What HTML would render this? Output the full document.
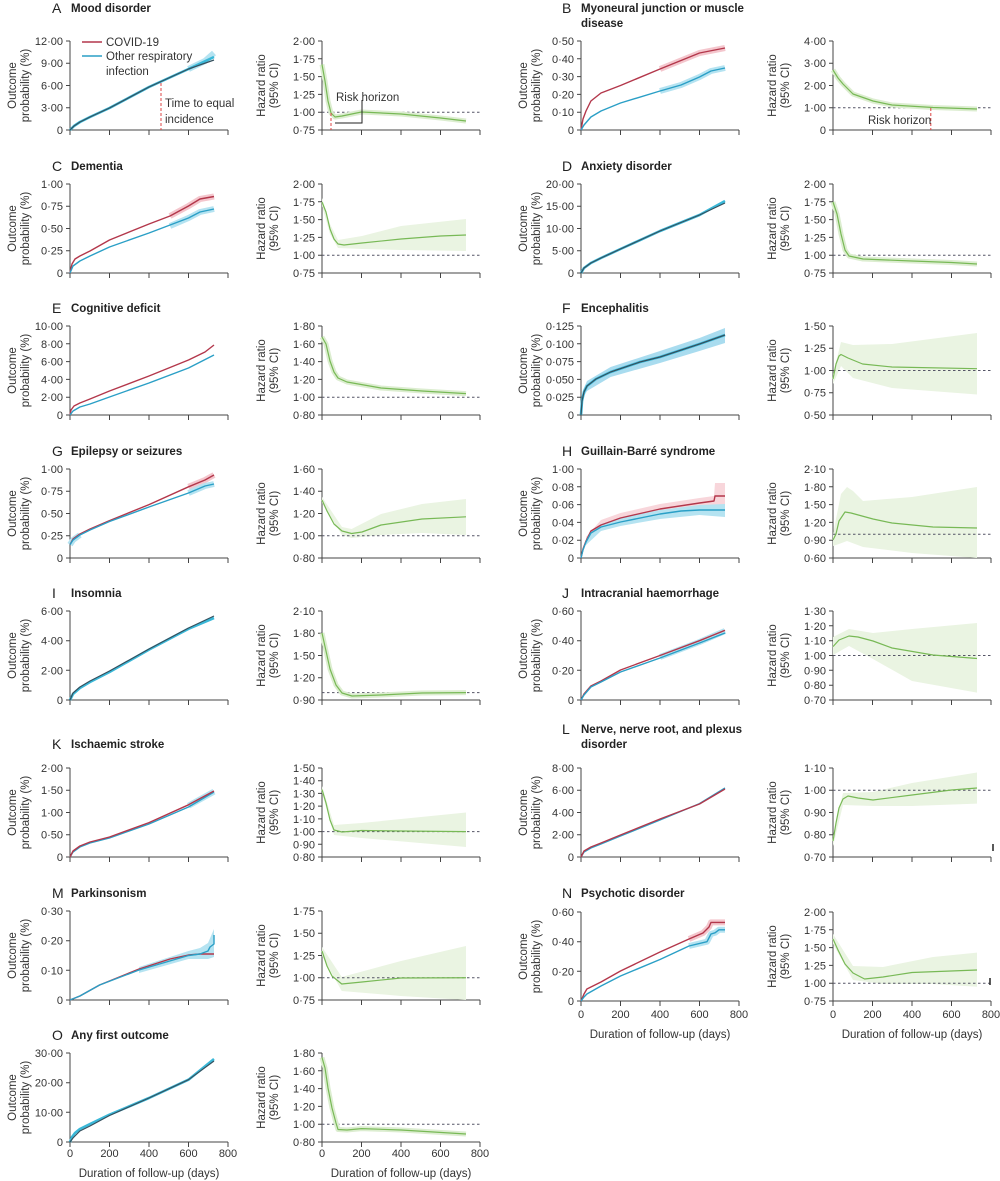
<!DOCTYPE html>
<html><head><meta charset="utf-8"><style>
html,body{margin:0;padding:0;background:#fff}
svg{display:block}
text{font-family:"Liberation Sans",sans-serif;fill:#333}
.t{font-size:11px;text-anchor:end}
.xt{font-size:11px;text-anchor:middle}
.yl{font-size:11.5px;text-anchor:middle}
.ax{fill:none;stroke:#444;stroke-width:1}
.lt{font-size:14px;fill:#222}
.ti{font-size:11.5px;font-weight:bold;fill:#222}
.r{fill:none;stroke:#b3374b;stroke-width:1.4;stroke-linejoin:round}
.c{fill:none;stroke:#2a9fc6;stroke-width:1.4;stroke-linejoin:round}
.cw{fill:none;stroke:#3ab8d8;stroke-width:2.6;stroke-linejoin:round}
.d{fill:none;stroke:#35505e;stroke-width:1.2;stroke-linejoin:round}
.rb{fill:none;stroke:#f4c6cd;stroke-width:6;stroke-linejoin:round}
.cb{fill:none;stroke:#b5e3f1;stroke-width:6;stroke-linejoin:round}
.g{fill:none;stroke:#78b956;stroke-width:1.2;stroke-linejoin:round}
.gs{fill:none;stroke:#dcedd0;stroke-width:5;stroke-linejoin:round}
.gb{fill:#eaf4e2;stroke:none}
.dot{stroke:#556;stroke-width:1;stroke-dasharray:2.5,2.5}
</style></head><body>
<svg width="1000" height="1181" viewBox="0 0 1000 1181" xmlns="http://www.w3.org/2000/svg">
<defs>
<path id="ax" class="ax" d="M0,0V89H158M0,89v5M39.5,89v5M79,89v5M118.5,89v5M158,89v5"/>
</defs>

<!-- ===== A ===== -->
<text class="lt" x="52" y="13">A</text><text class="ti" x="71" y="12">Mood disorder</text>
<g transform="translate(70,41)">
<use href="#ax"/>
<path class="ax" d="M-4,0h4M-4,22.25h4M-4,44.5h4M-4,66.75h4M-4,89h4"/>
<text class="t" x="-7" y="93">0</text><text class="t" x="-7" y="70.7">3·00</text><text class="t" x="-7" y="48.5">6·00</text><text class="t" x="-7" y="26.2">9·00</text><text class="t" x="-7" y="4">12·00</text>
<text class="yl" transform="translate(-54,44.5) rotate(-90)">Outcome</text>
<text class="yl" transform="translate(-41,44.5) rotate(-90)">probability (%)</text>
<path class="cb" d="M118.5,28L135,20L144,12"/>
<polyline class="cw" points="0,89 4,85 10,81 20,76 39.5,67 79,46 118.5,28 144,16"/>
<polyline class="d" points="0,89 4,85 10,81 20,76 39.5,67 79,46 118.5,28 144,19"/>
<line x1="91" y1="42" x2="91" y2="89" stroke="#d44" stroke-width="1" stroke-dasharray="3,2"/>
<text x="95" y="66" style="font-size:11.5px">Time to equal</text>
<text x="95" y="82" style="font-size:11.5px">incidence</text>
<line x1="12" y1="1" x2="32" y2="1" stroke="#b3374b" stroke-width="1.4"/>
<text x="36" y="5" style="font-size:11.5px">COVID-19</text>
<line x1="12" y1="15" x2="32" y2="15" stroke="#2a9fc6" stroke-width="1.4"/>
<text x="36" y="19" style="font-size:11.5px">Other respiratory</text>
<text x="36" y="34" style="font-size:11.5px">infection</text>
</g>
<g transform="translate(322,41)">
<use href="#ax"/>
<path class="ax" d="M-4,0h4M-4,17.8h4M-4,35.6h4M-4,53.4h4M-4,71.2h4M-4,89h4"/>
<text class="t" x="-7" y="93">0·75</text><text class="t" x="-7" y="75.2">1·00</text><text class="t" x="-7" y="57.4">1·25</text><text class="t" x="-7" y="39.6">1·50</text><text class="t" x="-7" y="21.8">1·75</text><text class="t" x="-7" y="4">2·00</text>
<text class="yl" transform="translate(-57,44.5) rotate(-90)">Hazard ratio</text>
<text class="yl" transform="translate(-44,44.5) rotate(-90)">(95% CI)</text>
<line class="dot" x1="0" y1="71.2" x2="158" y2="71.2"/>
<polyline class="gs" points="0,23.5 3,40 6,60 9,72 13,76 20,75 39.5,71 79,73 118.5,77 144,80"/>
<polyline class="g" points="0,23.5 3,40 6,60 9,72 13,76 20,75 39.5,71 79,73 118.5,77 144,80"/>
<line x1="9" y1="72" x2="9" y2="89" stroke="#d44" stroke-width="1" stroke-dasharray="3,2"/>
<path d="M13,82H40V59" fill="none" stroke="#222" stroke-width="1"/>
<text x="14" y="60" style="font-size:11.5px">Risk horizon</text>
</g>

<!-- ===== B ===== -->
<text class="lt" x="562" y="13">B</text><text class="ti" x="581" y="12">Myoneural junction or muscle</text><text class="ti" x="581" y="27">disease</text>
<g transform="translate(581,41)">
<use href="#ax"/>
<path class="ax" d="M-4,0h4M-4,17.8h4M-4,35.6h4M-4,53.4h4M-4,71.2h4M-4,89h4"/>
<text class="t" x="-7" y="93">0</text><text class="t" x="-7" y="75.2">0·10</text><text class="t" x="-7" y="57.4">0·20</text><text class="t" x="-7" y="39.6">0·30</text><text class="t" x="-7" y="21.8">0·40</text><text class="t" x="-7" y="4">0·50</text>
<text class="yl" transform="translate(-54,44.5) rotate(-90)">Outcome</text>
<text class="yl" transform="translate(-41,44.5) rotate(-90)">probability (%)</text>
<polyline class="rb" points="79,28 118.5,12 144,7"/>
<polyline class="cb" points="79,50 100,44 118.5,36 130,30 144,27"/>
<polyline class="r" points="0,89 2,78 5,70 9.9,60 20,52 39.5,44.5 79,28 118.5,12 144,7"/>
<polyline class="c" points="0,89 3,84 9.9,76 20,70 39.5,62 79,50 100,44 118.5,36 130,30 144,27"/>
</g>
<g transform="translate(833,41)">
<use href="#ax"/>
<path class="ax" d="M-4,0h4M-4,22.25h4M-4,44.5h4M-4,66.75h4M-4,89h4"/>
<text class="t" x="-7" y="93">0</text><text class="t" x="-7" y="70.7">1·00</text><text class="t" x="-7" y="48.5">2·00</text><text class="t" x="-7" y="26.2">3·00</text><text class="t" x="-7" y="4">4·00</text>
<text class="yl" transform="translate(-57,44.5) rotate(-90)">Hazard ratio</text>
<text class="yl" transform="translate(-44,44.5) rotate(-90)">(95% CI)</text>
<line class="dot" x1="0" y1="66.75" x2="158" y2="66.75"/>
<polyline class="gs" points="0,29 5,37 10,43 20,53 40,60 59,64 100,66.5 144,68"/>
<polyline class="g" points="0,29 5,37 10,43 20,53 40,60 59,64 100,66.5 144,68"/>
<line x1="97.8" y1="67" x2="97.8" y2="89" stroke="#d44" stroke-width="1" stroke-dasharray="3,2"/>
<text x="35" y="83" style="font-size:11.5px">Risk horizon</text>
</g>

<!-- ===== C ===== -->
<text class="lt" x="52" y="171">C</text><text class="ti" x="71" y="170">Dementia</text>
<g transform="translate(70,184)">
<use href="#ax"/>
<path class="ax" d="M-4,0h4M-4,22.25h4M-4,44.5h4M-4,66.75h4M-4,89h4"/>
<text class="t" x="-7" y="93">0</text><text class="t" x="-7" y="70.7">0·25</text><text class="t" x="-7" y="48.5">0·50</text><text class="t" x="-7" y="26.2">0·75</text><text class="t" x="-7" y="4">1·00</text>
<text class="yl" transform="translate(-54,44.5) rotate(-90)">Outcome</text>
<text class="yl" transform="translate(-41,44.5) rotate(-90)">probability (%)</text>
<polyline class="rb" points="100,32 118.5,22 130,15 144,12.5"/>
<polyline class="cb" points="100,42 118.5,34 130,28 144,25"/>
<polyline class="r" points="0,89 2,80 5,75 9.9,72 20,67 39.5,56 79,40 100,32 118.5,22 130,15 144,12.5"/>
<polyline class="c" points="0,89 3,82 9.9,77 20,72 39.5,63 79,49 118.5,34 130,28 144,25"/>
</g>
<g transform="translate(322,184)">
<use href="#ax"/>
<path class="ax" d="M-4,0h4M-4,17.8h4M-4,35.6h4M-4,53.4h4M-4,71.2h4M-4,89h4"/>
<text class="t" x="-7" y="93">0·75</text><text class="t" x="-7" y="75.2">1·00</text><text class="t" x="-7" y="57.4">1·25</text><text class="t" x="-7" y="39.6">1·50</text><text class="t" x="-7" y="21.8">1·75</text><text class="t" x="-7" y="4">2·00</text>
<text class="yl" transform="translate(-57,44.5) rotate(-90)">Hazard ratio</text>
<text class="yl" transform="translate(-44,44.5) rotate(-90)">(95% CI)</text>
<polygon class="gb" points="0,14 8,40 16,56 40,52 79,42 144,35 144,67 79,66 40,65 16,64 8,50 0,22"/>
<line class="dot" x1="0" y1="71.2" x2="158" y2="71.2"/>
<polyline class="g" points="0,18 4,28 8,45 12,55 16,60 22,61 40,59 79,55 118.5,52 144,51"/>
</g>

<!-- ===== D ===== -->
<text class="lt" x="562" y="171">D</text><text class="ti" x="581" y="170">Anxiety disorder</text>
<g transform="translate(581,184)">
<use href="#ax"/>
<path class="ax" d="M-4,0h4M-4,22.25h4M-4,44.5h4M-4,66.75h4M-4,89h4"/>
<text class="t" x="-7" y="93">0</text><text class="t" x="-7" y="70.7">5·00</text><text class="t" x="-7" y="48.5">10·00</text><text class="t" x="-7" y="26.2">15·00</text><text class="t" x="-7" y="4">20·00</text>
<text class="yl" transform="translate(-54,44.5) rotate(-90)">Outcome</text>
<text class="yl" transform="translate(-41,44.5) rotate(-90)">probability (%)</text>
<polyline class="cw" points="0,89 3,84 9.9,79 20,74 39.5,65 79,47 118.5,31 144,17"/>
<polyline class="d" points="0,89 3,84 9.9,79 20,74 39.5,65 79,47 118.5,31 144,19"/>
</g>
<g transform="translate(833,184)">
<use href="#ax"/>
<path class="ax" d="M-4,0h4M-4,17.8h4M-4,35.6h4M-4,53.4h4M-4,71.2h4M-4,89h4"/>
<text class="t" x="-7" y="93">0·75</text><text class="t" x="-7" y="75.2">1·00</text><text class="t" x="-7" y="57.4">1·25</text><text class="t" x="-7" y="39.6">1·50</text><text class="t" x="-7" y="21.8">1·75</text><text class="t" x="-7" y="4">2·00</text>
<text class="yl" transform="translate(-57,44.5) rotate(-90)">Hazard ratio</text>
<text class="yl" transform="translate(-44,44.5) rotate(-90)">(95% CI)</text>
<line class="dot" x1="0" y1="71.2" x2="158" y2="71.2"/>
<polyline class="gs" points="0,18 4,30 8,50 12,66 16,72 30,75 79,77 118.5,78.5 144,80"/>
<polyline class="g" points="0,18 4,30 8,50 12,66 16,72 30,75 79,77 118.5,78.5 144,80"/>
</g>

<!-- ===== E ===== -->
<text class="lt" x="52" y="313">E</text><text class="ti" x="71" y="312">Cognitive deficit</text>
<g transform="translate(70,326)">
<use href="#ax"/>
<path class="ax" d="M-4,0h4M-4,17.8h4M-4,35.6h4M-4,53.4h4M-4,71.2h4M-4,89h4"/>
<text class="t" x="-7" y="93">0</text><text class="t" x="-7" y="75.2">2·00</text><text class="t" x="-7" y="57.4">4·00</text><text class="t" x="-7" y="39.6">6·00</text><text class="t" x="-7" y="21.8">8·00</text><text class="t" x="-7" y="4">10·00</text>
<text class="yl" transform="translate(-54,44.5) rotate(-90)">Outcome</text>
<text class="yl" transform="translate(-41,44.5) rotate(-90)">probability (%)</text>
<polyline class="r" points="0,89 1,84 4,80 9.9,77 20,73 39.5,65 79,50 118.5,34 135,26 144,19"/>
<polyline class="c" points="0,89 3,85 9.9,81 20,78 39.5,71 79,57 118.5,42 144,29"/>
</g>
<g transform="translate(322,326)">
<use href="#ax"/>
<path class="ax" d="M-4,0h4M-4,17.8h4M-4,35.6h4M-4,53.4h4M-4,71.2h4M-4,89h4"/>
<text class="t" x="-7" y="93">0·80</text><text class="t" x="-7" y="75.2">1·00</text><text class="t" x="-7" y="57.4">1·20</text><text class="t" x="-7" y="39.6">1·40</text><text class="t" x="-7" y="21.8">1·60</text><text class="t" x="-7" y="4">1·80</text>
<text class="yl" transform="translate(-57,44.5) rotate(-90)">Hazard ratio</text>
<text class="yl" transform="translate(-44,44.5) rotate(-90)">(95% CI)</text>
<line class="dot" x1="0" y1="71.2" x2="158" y2="71.2"/>
<polyline class="gs" points="0,11 4,18 8,35 12,46 16,52 25,56 59,62 100,65 144,67.6"/>
<polyline class="g" points="0,11 4,18 8,35 12,46 16,52 25,56 59,62 100,65 144,67.6"/>
</g>

<!-- ===== F ===== -->
<text class="lt" x="562" y="313">F</text><text class="ti" x="581" y="312">Encephalitis</text>
<g transform="translate(581,326)">
<use href="#ax"/>
<path class="ax" d="M-4,0h4M-4,17.8h4M-4,35.6h4M-4,53.4h4M-4,71.2h4M-4,89h4"/>
<text class="t" x="-7" y="93">0</text><text class="t" x="-7" y="75.2">0·025</text><text class="t" x="-7" y="57.4">0·050</text><text class="t" x="-7" y="39.6">0·075</text><text class="t" x="-7" y="21.8">0·100</text><text class="t" x="-7" y="4">0·125</text>
<text class="yl" transform="translate(-54,44.5) rotate(-90)">Outcome</text>
<text class="yl" transform="translate(-41,44.5) rotate(-90)">probability (%)</text>
<polygon fill="#a9dcef" points="0,89 2,64 6,55 29.6,41 79,25 118.5,12 144,2 144,17 118.5,25 79,37 29.6,51 6,65 2,72"/>
<polyline class="cw" points="0,89 1,75 3,66 6,60 15,53 29.6,46 59,36 79,31 118.5,18 144,9"/>
<polyline class="d" points="0,89 1,75 3,66 6,60 15,53 29.6,46 59,36 79,31 118.5,18 144,9"/>
</g>
<g transform="translate(833,326)">
<use href="#ax"/>
<path class="ax" d="M-4,0h4M-4,22.25h4M-4,44.5h4M-4,66.75h4M-4,89h4"/>
<text class="t" x="-7" y="93">0·50</text><text class="t" x="-7" y="70.7">0·75</text><text class="t" x="-7" y="48.5">1·00</text><text class="t" x="-7" y="26.2">1·25</text><text class="t" x="-7" y="4">1·50</text>
<text class="yl" transform="translate(-57,44.5) rotate(-90)">Hazard ratio</text>
<text class="yl" transform="translate(-44,44.5) rotate(-90)">(95% CI)</text>
<polygon class="gb" points="0,48 8,16 20,19 59,18 144,7 144,68.5 59,62 20,52 8,40 0,58"/>
<line class="dot" x1="0" y1="44.5" x2="158" y2="44.5"/>
<polyline class="g" points="0,53 3,38 6,30 8,28.5 15,32 29.6,38 59,41 144,42.7"/>
</g>

<!-- ===== G ===== -->
<text class="lt" x="52" y="456">G</text><text class="ti" x="71" y="455">Epilepsy or seizures</text>
<g transform="translate(70,469)">
<use href="#ax"/>
<path class="ax" d="M-4,0h4M-4,22.25h4M-4,44.5h4M-4,66.75h4M-4,89h4"/>
<text class="t" x="-7" y="93">0</text><text class="t" x="-7" y="70.7">0·25</text><text class="t" x="-7" y="48.5">0·50</text><text class="t" x="-7" y="26.2">0·75</text><text class="t" x="-7" y="4">1·00</text>
<text class="yl" transform="translate(-54,44.5) rotate(-90)">Outcome</text>
<text class="yl" transform="translate(-41,44.5) rotate(-90)">probability (%)</text>
<polyline class="cb" points="0,75.6 3,71 9.9,66"/>
<polyline class="rb" points="118.5,17.8 135,11 144,6"/>
<polyline class="cb" points="118.5,24 135,17 144,15"/>
<polyline class="r" points="0,75.6 3,70 9.9,65 20,60 39.5,51.6 79,35.6 118.5,17.8 135,11 144,6"/>
<polyline class="c" points="0,75.6 3,71 9.9,66 20,61 39.5,52.5 79,38 118.5,24 135,17 144,15"/>
</g>
<g transform="translate(322,469)">
<use href="#ax"/>
<path class="ax" d="M-4,0h4M-4,22.25h4M-4,44.5h4M-4,66.75h4M-4,89h4"/>
<text class="t" x="-7" y="93">0·80</text><text class="t" x="-7" y="70.7">1·00</text><text class="t" x="-7" y="48.5">1·20</text><text class="t" x="-7" y="26.2">1·40</text><text class="t" x="-7" y="4">1·60</text>
<text class="yl" transform="translate(-57,44.5) rotate(-90)">Hazard ratio</text>
<text class="yl" transform="translate(-44,44.5) rotate(-90)">(95% CI)</text>
<polygon class="gb" points="0,28 20,58 29.6,60 59,45 100,35 144,30 144,66 100,64 59,66 29.6,69 20,66 0,34"/>
<line class="dot" x1="0" y1="66.75" x2="158" y2="66.75"/>
<polyline class="g" points="0,31 5,42 12,55 20,62 29.6,64.5 40,63 59,56 100,50 144,47.8"/>
</g>

<!-- ===== H ===== -->
<text class="lt" x="562" y="456">H</text><text class="ti" x="581" y="455">Guillain-Barré syndrome</text>
<g transform="translate(581,469)">
<use href="#ax"/>
<path class="ax" d="M-4,0h4M-4,17.8h4M-4,35.6h4M-4,53.4h4M-4,71.2h4M-4,89h4"/>
<text class="t" x="-7" y="93">0</text><text class="t" x="-7" y="75.2">0·02</text><text class="t" x="-7" y="57.4">0·04</text><text class="t" x="-7" y="39.6">0·06</text><text class="t" x="-7" y="21.8">0·08</text><text class="t" x="-7" y="4">1·00</text>
<text class="yl" transform="translate(-54,44.5) rotate(-90)">Outcome</text>
<text class="yl" transform="translate(-41,44.5) rotate(-90)">probability (%)</text>
<polygon fill="#f8d6db" points="5,68 20,51 39.5,44 79,35 118.5,29 133,27 134,14 144,14 144,36 118.5,40 79,45 39.5,55 20,61 5,76"/>
<polygon fill="#b5e3f1" points="5,70 20,55 39.5,49 79,41 118.5,36 144,35 144,48 118.5,46 79,50 39.5,57 20,62 5,76"/>
<polyline class="r" points="0,89 2,80 5,72 9.9,62 20,56 39.5,49 79,40 118.5,34 133,32 134,27 144,27"/>
<polyline class="c" points="0,89 2,81 5,73 9.9,64 20,58 39.5,53 79,45 100,42 118.5,41 144,41"/>
</g>
<g transform="translate(833,469)">
<use href="#ax"/>
<path class="ax" d="M-4,0h4M-4,17.8h4M-4,35.6h4M-4,53.4h4M-4,71.2h4M-4,89h4"/>
<text class="t" x="-7" y="93">0·60</text><text class="t" x="-7" y="75.2">0·90</text><text class="t" x="-7" y="57.4">1·20</text><text class="t" x="-7" y="39.6">1·50</text><text class="t" x="-7" y="21.8">1·80</text><text class="t" x="-7" y="4">2·10</text>
<text class="yl" transform="translate(-57,44.5) rotate(-90)">Hazard ratio</text>
<text class="yl" transform="translate(-44,44.5) rotate(-90)">(95% CI)</text>
<polygon class="gb" points="0,65 8,25 14,18 20,22 30,32 79,28 144,18 144,89 79,84 30,78 14,72 6,75 0,77"/>
<line class="dot" x1="0" y1="65.3" x2="158" y2="65.3"/>
<polyline class="g" points="0,71 3,65 6,52 12,43 18,44 40,50 59,54 100,58 144,59"/>
</g>

<!-- ===== I ===== -->
<text class="lt" x="52" y="598">I</text><text class="ti" x="71" y="597">Insomnia</text>
<g transform="translate(70,611)">
<use href="#ax"/>
<path class="ax" d="M-4,0h4M-4,29.7h4M-4,59.3h4M-4,89h4"/>
<text class="t" x="-7" y="93">0</text><text class="t" x="-7" y="63.3">2·00</text><text class="t" x="-7" y="33.7">4·00</text><text class="t" x="-7" y="4">6·00</text>
<text class="yl" transform="translate(-54,44.5) rotate(-90)">Outcome</text>
<text class="yl" transform="translate(-41,44.5) rotate(-90)">probability (%)</text>
<polyline class="cw" points="0,89 3,83 9.9,77 20,71 39.5,61 79,38.6 118.5,17.8 144,7"/>
<polyline class="d" points="0,89 3,82 9.9,76 20,70 39.5,60 79,38 118.5,17 144,5"/>
</g>
<g transform="translate(322,611)">
<use href="#ax"/>
<path class="ax" d="M-4,0h4M-4,22.25h4M-4,44.5h4M-4,66.75h4M-4,89h4"/>
<text class="t" x="-7" y="93">0·90</text><text class="t" x="-7" y="70.7">1·20</text><text class="t" x="-7" y="48.5">1·50</text><text class="t" x="-7" y="26.2">1·80</text><text class="t" x="-7" y="4">2·10</text>
<text class="yl" transform="translate(-57,44.5) rotate(-90)">Hazard ratio</text>
<text class="yl" transform="translate(-44,44.5) rotate(-90)">(95% CI)</text>
<line class="dot" x1="0" y1="81.6" x2="158" y2="81.6"/>
<polyline class="gs" points="0,22 4,40 8,58 14,74 20,82 30,85 59,84 100,82 144,81.6"/>
<polyline class="g" points="0,22 4,40 8,58 14,74 20,82 30,85 59,84 100,82 144,81.6"/>
</g>

<!-- ===== J ===== -->
<text class="lt" x="562" y="598">J</text><text class="ti" x="581" y="597">Intracranial haemorrhage</text>
<g transform="translate(581,611)">
<use href="#ax"/>
<path class="ax" d="M-4,0h4M-4,29.7h4M-4,59.3h4M-4,89h4"/>
<text class="t" x="-7" y="93">0</text><text class="t" x="-7" y="63.3">0·20</text><text class="t" x="-7" y="33.7">0·40</text><text class="t" x="-7" y="4">0·60</text>
<text class="yl" transform="translate(-54,44.5) rotate(-90)">Outcome</text>
<text class="yl" transform="translate(-41,44.5) rotate(-90)">probability (%)</text>
<polyline class="cb" points="79,46 118.5,31 144,20"/>
<polyline class="r" points="0,89 3,83 9.9,75 20,70 39.5,59 79,44.5 118.5,29.7 144,19.3"/>
<polyline class="c" points="0,89 3,84 9.9,76 20,71 39.5,61 79,47 118.5,32 144,22"/>
</g>
<g transform="translate(833,611)">
<use href="#ax"/>
<path class="ax" d="M-4,0h4M-4,14.8h4M-4,29.7h4M-4,44.5h4M-4,59.3h4M-4,74.2h4M-4,89h4"/>
<text class="t" x="-7" y="93">0·70</text><text class="t" x="-7" y="78.2">0·80</text><text class="t" x="-7" y="63.3">0·90</text><text class="t" x="-7" y="48.5">1·00</text><text class="t" x="-7" y="33.7">1·10</text><text class="t" x="-7" y="18.8">1·20</text><text class="t" x="-7" y="4">1·30</text>
<text class="yl" transform="translate(-57,44.5) rotate(-90)">Hazard ratio</text>
<text class="yl" transform="translate(-44,44.5) rotate(-90)">(95% CI)</text>
<polygon class="gb" points="0,26 16,18 40,22 79,18 144,12 144,81.6 79,70 40,48 16,35 0,44"/>
<line class="dot" x1="0" y1="44.5" x2="158" y2="44.5"/>
<polyline class="g" points="0,35.6 6,29 16,25 25,26 40,30 59,37 100,44 144,47.5"/>
</g>

<!-- ===== K ===== -->
<text class="lt" x="52" y="749">K</text><text class="ti" x="71" y="748">Ischaemic stroke</text>
<g transform="translate(70,768)">
<use href="#ax"/>
<path class="ax" d="M-4,0h4M-4,22.25h4M-4,44.5h4M-4,66.75h4M-4,89h4"/>
<text class="t" x="-7" y="93">0</text><text class="t" x="-7" y="70.7">0·50</text><text class="t" x="-7" y="48.5">1·00</text><text class="t" x="-7" y="26.2">1·50</text><text class="t" x="-7" y="4">2·00</text>
<text class="yl" transform="translate(-54,44.5) rotate(-90)">Outcome</text>
<text class="yl" transform="translate(-41,44.5) rotate(-90)">probability (%)</text>
<polyline class="cb" points="118.5,37.8 144,23.6"/>
<polyline class="c" points="0,89 3,84 9.9,79 20,75 39.5,70 79,56 118.5,39 144,24"/>
<polyline class="r" points="0,89 3,83 9.9,78 20,74 39.5,69 79,54.6 118.5,36.8 144,23"/>
</g>
<g transform="translate(322,768)">
<use href="#ax"/>
<path class="ax" d="M-4,0h4M-4,12.7h4M-4,25.4h4M-4,38.1h4M-4,50.9h4M-4,63.6h4M-4,76.3h4M-4,89h4"/>
<text class="t" x="-7" y="93">0·80</text><text class="t" x="-7" y="80.3">0·90</text><text class="t" x="-7" y="67.6">1·00</text><text class="t" x="-7" y="54.9">1·10</text><text class="t" x="-7" y="42.1">1·20</text><text class="t" x="-7" y="29.4">1·30</text><text class="t" x="-7" y="16.7">1·40</text><text class="t" x="-7" y="4">1·50</text>
<text class="yl" transform="translate(-57,44.5) rotate(-90)">Hazard ratio</text>
<text class="yl" transform="translate(-44,44.5) rotate(-90)">(95% CI)</text>
<polygon class="gb" points="0,18 12,57 39.5,55 144,44.5 144,79 39.5,70 12,67 0,25"/>
<line class="dot" x1="0" y1="63.6" x2="158" y2="63.6"/>
<polyline class="g" points="0,21.6 4,35 8,52 12,62 20,64 39.5,62.5 79,63 144,63.6"/>
</g>

<!-- ===== L ===== -->
<text class="lt" x="562" y="734">L</text><text class="ti" x="581" y="733">Nerve, nerve root, and plexus</text><text class="ti" x="581" y="748">disorder</text>
<g transform="translate(581,768)">
<use href="#ax"/>
<path class="ax" d="M-4,0h4M-4,22.25h4M-4,44.5h4M-4,66.75h4M-4,89h4"/>
<text class="t" x="-7" y="93">0</text><text class="t" x="-7" y="70.7">2·00</text><text class="t" x="-7" y="48.5">4·00</text><text class="t" x="-7" y="26.2">6·00</text><text class="t" x="-7" y="4">8·00</text>
<text class="yl" transform="translate(-54,44.5) rotate(-90)">Outcome</text>
<text class="yl" transform="translate(-41,44.5) rotate(-90)">probability (%)</text>
<polyline class="c" points="0,89 3,84 9.9,80 20,76 39.5,68 79,52 118.5,35.6 144,20"/>
<polyline class="r" points="0,89 3,83 9.9,79 20,75 39.5,67 79,51 118.5,36 144,21"/>
</g>
<g transform="translate(833,768)">
<use href="#ax"/>
<path class="ax" d="M-4,0h4M-4,22.25h4M-4,44.5h4M-4,66.75h4M-4,89h4"/>
<text class="t" x="-7" y="93">0·70</text><text class="t" x="-7" y="70.7">0·80</text><text class="t" x="-7" y="48.5">0·90</text><text class="t" x="-7" y="26.2">1·00</text><text class="t" x="-7" y="4">1·10</text>
<text class="yl" transform="translate(-57,44.5) rotate(-90)">Hazard ratio</text>
<text class="yl" transform="translate(-44,44.5) rotate(-90)">(95% CI)</text>
<polygon class="gb" points="0,68 10,25 40,24 79,15 144,4.5 144,35.6 79,38 40,38 10,37 0,78"/>
<line class="dot" x1="0" y1="22.25" x2="158" y2="22.25"/>
<polyline class="g" points="0,73 3,55 6,40 10,31 15,28 25,30 40,32 79,27 118.5,22 144,20"/>
<line x1="160" y1="76" x2="160" y2="83" stroke="#222" stroke-width="1.5"/>
</g>

<!-- ===== M ===== -->
<text class="lt" x="52" y="898">M</text><text class="ti" x="71" y="897">Parkinsonism</text>
<g transform="translate(70,911)">
<use href="#ax"/>
<path class="ax" d="M-4,0h4M-4,29.7h4M-4,59.3h4M-4,89h4"/>
<text class="t" x="-7" y="93">0</text><text class="t" x="-7" y="63.3">0·10</text><text class="t" x="-7" y="33.7">0·20</text><text class="t" x="-7" y="4">0·30</text>
<text class="yl" transform="translate(-54,44.5) rotate(-90)">Outcome</text>
<text class="yl" transform="translate(-41,44.5) rotate(-90)">probability (%)</text>
<polygon fill="#b5e3f1" points="69,56 118.5,40 130,37 138,32 144,18 144,46 138,48 118.5,48 69,62"/>
<polyline class="r" points="0,89 9.9,85 29.6,74 69,58 100,48 118.5,44 130,43 144,43"/>
<polyline class="c" points="0,89 9.9,85 29.6,74 69,59 118.5,44.5 130,43 138,40 140,36 144,33 144,24"/>
</g>
<g transform="translate(322,911)">
<use href="#ax"/>
<path class="ax" d="M-4,0h4M-4,22.25h4M-4,44.5h4M-4,66.75h4M-4,89h4"/>
<text class="t" x="-7" y="93">0·75</text><text class="t" x="-7" y="70.7">1·00</text><text class="t" x="-7" y="48.5">1·25</text><text class="t" x="-7" y="26.2">1·50</text><text class="t" x="-7" y="4">1·75</text>
<text class="yl" transform="translate(-57,44.5) rotate(-90)">Hazard ratio</text>
<text class="yl" transform="translate(-44,44.5) rotate(-90)">(95% CI)</text>
<polygon class="gb" points="0,36 19.75,66 79,50 144,35 144,89 79,85 19.75,80 0,45"/>
<line class="dot" x1="0" y1="66.75" x2="158" y2="66.75"/>
<polyline class="g" points="0,40 5,55 10,65 19.75,73 40,71 79,67 144,66.75"/>
</g>

<!-- ===== N ===== -->
<text class="lt" x="562" y="898">N</text><text class="ti" x="581" y="897">Psychotic disorder</text>
<g transform="translate(581,912)">
<use href="#ax"/>
<path class="ax" d="M-4,0h4M-4,29.7h4M-4,59.3h4M-4,89h4"/>
<text class="t" x="-7" y="93">0</text><text class="t" x="-7" y="63.3">0·20</text><text class="t" x="-7" y="33.7">0·40</text><text class="t" x="-7" y="4">0·60</text>
<text class="yl" transform="translate(-54,44.5) rotate(-90)">Outcome</text>
<text class="yl" transform="translate(-41,44.5) rotate(-90)">probability (%)</text>
<polyline class="rb" points="108,27 122,21 128,15 130,10.4 144,10.4"/>
<polyline class="cb" points="108,34 126,29.7 130,22 134,20.8 138,17.8 144,17.8"/>
<polyline class="r" points="0,89 3,82 5.9,77 20,70 39.5,59 79,40 108,27 122,21 128,15 130,10.4 144,10.4"/>
<polyline class="c" points="0,89 3,85 5.9,82 20,74 39.5,64 79,47.5 108,34 126,29.7 130,22 134,20.8 138,17.8 144,17.8"/>
<text class="xt" x="0" y="106">0</text><text class="xt" x="39.5" y="106">200</text><text class="xt" x="79" y="106">400</text><text class="xt" x="118.5" y="106">600</text><text class="xt" x="158" y="106">800</text>
<text class="yl" x="79" y="126">Duration of follow-up (days)</text>
</g>
<g transform="translate(833,912)">
<use href="#ax"/>
<path class="ax" d="M-4,0h4M-4,17.8h4M-4,35.6h4M-4,53.4h4M-4,71.2h4M-4,89h4"/>
<text class="t" x="-7" y="93">0·75</text><text class="t" x="-7" y="75.2">1·00</text><text class="t" x="-7" y="57.4">1·25</text><text class="t" x="-7" y="39.6">1·50</text><text class="t" x="-7" y="21.8">1·75</text><text class="t" x="-7" y="4">2·00</text>
<text class="yl" transform="translate(-57,44.5) rotate(-90)">Hazard ratio</text>
<text class="yl" transform="translate(-44,44.5) rotate(-90)">(95% CI)</text>
<polygon class="gb" points="0,22 20,54 50,55 100,45 144,40.6 144,74.8 100,72 50,72 20,68 0,32"/>
<line class="dot" x1="0" y1="71.2" x2="158" y2="71.2"/>
<polyline class="g" points="0,27 5,38 12,52 20,61 31.6,67 50,65 79,60.5 144,58"/>
<line x1="157" y1="66" x2="157" y2="73" stroke="#222" stroke-width="1.5"/>
<text class="xt" x="0" y="106">0</text><text class="xt" x="39.5" y="106">200</text><text class="xt" x="79" y="106">400</text><text class="xt" x="118.5" y="106">600</text><text class="xt" x="158" y="106">800</text>
<text class="yl" x="79" y="126">Duration of follow-up (days)</text>
</g>

<!-- ===== O ===== -->
<text class="lt" x="52" y="1040">O</text><text class="ti" x="71" y="1039">Any first outcome</text>
<g transform="translate(70,1053)">
<use href="#ax"/>
<path class="ax" d="M-4,0h4M-4,29.7h4M-4,59.3h4M-4,89h4"/>
<text class="t" x="-7" y="93">0</text><text class="t" x="-7" y="63.3">10·00</text><text class="t" x="-7" y="33.7">20·00</text><text class="t" x="-7" y="4">30·00</text>
<text class="yl" transform="translate(-54,44.5) rotate(-90)">Outcome</text>
<text class="yl" transform="translate(-41,44.5) rotate(-90)">probability (%)</text>
<polyline class="cw" points="0,89 2,84 5,80 9.9,76 20,71 39.5,61.7 79,45 118.5,26.7 144,6"/>
<polyline class="d" points="0,89 3,85 9.9,78 20,73 39.5,62.5 79,45 118.5,26.7 144,8"/>
<text class="xt" x="0" y="104">0</text><text class="xt" x="39.5" y="104">200</text><text class="xt" x="79" y="104">400</text><text class="xt" x="118.5" y="104">600</text><text class="xt" x="158" y="104">800</text>
<text class="yl" x="79" y="124">Duration of follow-up (days)</text>
</g>
<g transform="translate(322,1053)">
<use href="#ax"/>
<path class="ax" d="M-4,0h4M-4,17.8h4M-4,35.6h4M-4,53.4h4M-4,71.2h4M-4,89h4"/>
<text class="t" x="-7" y="93">0·80</text><text class="t" x="-7" y="75.2">1·00</text><text class="t" x="-7" y="57.4">1·20</text><text class="t" x="-7" y="39.6">1·40</text><text class="t" x="-7" y="21.8">1·60</text><text class="t" x="-7" y="4">1·80</text>
<text class="yl" transform="translate(-57,44.5) rotate(-90)">Hazard ratio</text>
<text class="yl" transform="translate(-44,44.5) rotate(-90)">(95% CI)</text>
<line class="dot" x1="0" y1="71.2" x2="158" y2="71.2"/>
<polyline class="gs" points="0,4.5 3,15 6,35 10,55 14,70 16,76.5 25,77 39.5,75.6 79,77 144,81"/>
<polyline class="g" points="0,4.5 3,15 6,35 10,55 14,70 16,76.5 25,77 39.5,75.6 79,77 144,81"/>
<text class="xt" x="0" y="104">0</text><text class="xt" x="39.5" y="104">200</text><text class="xt" x="79" y="104">400</text><text class="xt" x="118.5" y="104">600</text><text class="xt" x="158" y="104">800</text>
<text class="yl" x="79" y="124">Duration of follow-up (days)</text>
</g>
</svg>
</body></html>
